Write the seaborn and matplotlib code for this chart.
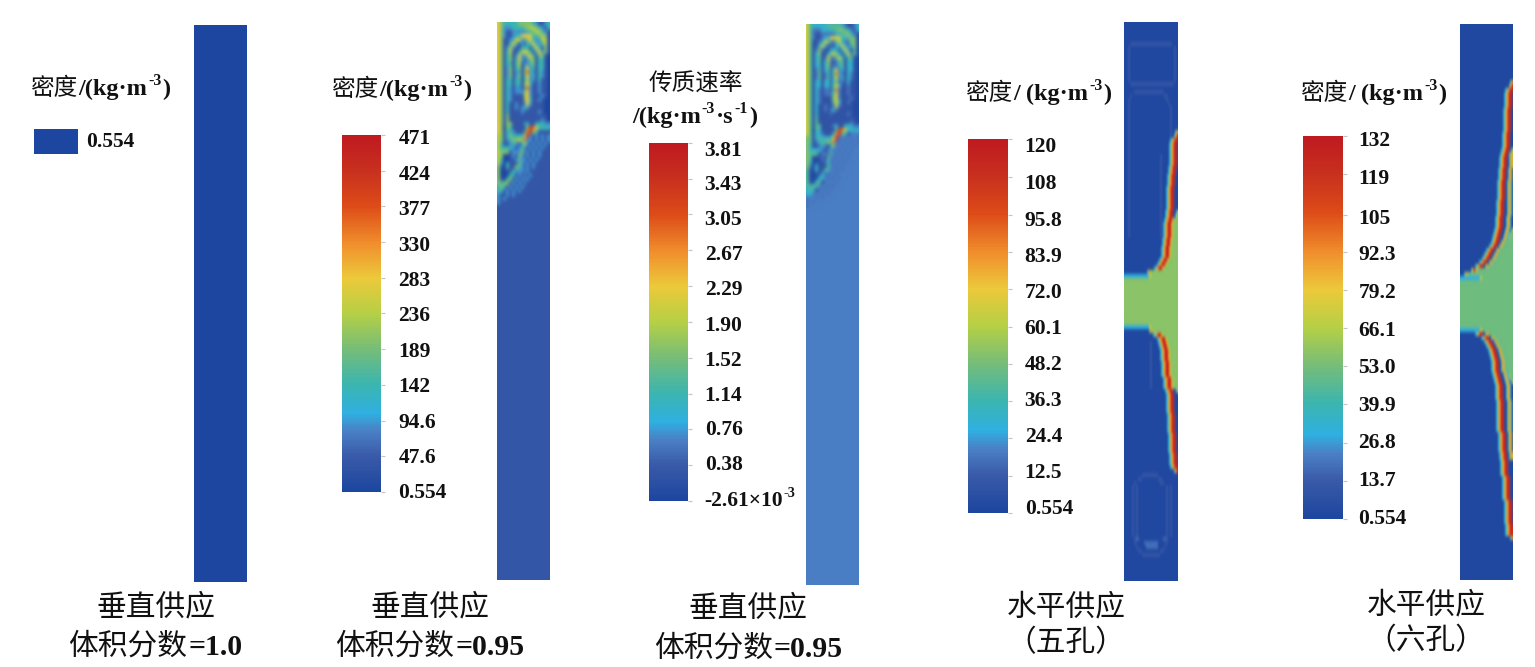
import numpy as np
import seaborn as sns
import matplotlib
matplotlib.use("Agg")
import matplotlib.pyplot as plt
from matplotlib.colors import LinearSegmentedColormap
from matplotlib.transforms import Affine2D

W, H = 1535, 667

# ---- data -------------------------------------------------------------
DENSITY_TICKS_2 = [471, 424, 377, 330, 283, 236, 189, 142, 94.6, 47.6, 0.554]
RATE_TICKS_3 = [3.81, 3.43, 3.05, 2.67, 2.29, 1.90, 1.52, 1.14, 0.76, 0.38, -2.61e-3]
DENSITY_TICKS_4 = [120, 108, 95.8, 83.9, 72.0, 60.1, 48.2, 36.3, 24.4, 12.5, 0.554]
DENSITY_TICKS_5 = [132, 119, 105, 92.3, 79.2, 66.1, 53.0, 39.9, 26.8, 13.7, 0.554]
LABELS_2 = ["471", "424", "377", "330", "283", "236", "189", "142", "94.6", "47.6", "0.554"]
LABELS_3 = ["3.81", "3.43", "3.05", "2.67", "2.29", "1.90", "1.52", "1.14", "0.76", "0.38", "-2.61×10"]
LABELS_4 = ["120", "108", "95.8", "83.9", "72.0", "60.1", "48.2", "36.3", "24.4", "12.5", "0.554"]
LABELS_5 = ["132", "119", "105", "92.3", "79.2", "66.1", "53.0", "39.9", "26.8", "13.7", "0.554"]

# cell codes -> position on the colour scale
LEVELS_2 = {"0": .0, "a": .08, "1": .08, "b": .08, "2": .19, "3": .3, "4": .42, "5": .5, "6": .6, "7": .74, "8": .88, "9": 1.}
LEVELS_3 = {"0": .02, "a": .08, "1": .07, "b": .165, "2": .15, "3": .26, "4": .34, "5": .42, "6": .55, "7": .72, "8": .88, "9": 1.}
LEVELS_4 = {"0": .015, "a": .085, "1": .08, "2": .14, "3": .22, "4": .32, "5": .43, "6": .54, "7": .72, "8": .86, "9": 1.}
LEVELS_5 = {"0": .015, "a": .07, "1": .08, "2": .13, "3": .22, "4": .32, "5": .39, "6": .54, "7": .72, "8": .86, "9": 1.}

SWIRL_TOP = [
    "643333344444321123", "642223333445543213", "642112222233455321", "642112336666334541",
    "641123652246322551", "641136312133632351", "641252113331363141", "641351135653136241",
    "641341262246314410", "641341352124413310", "641331351223413310", "641241341362313310",
    "641241231473213210", "641241241362313210", "641331331352213110", "641331331463112110",
    "641321221372112110", "641321222462112110", "641321111562111210", "641321111463112100",
    "641311211262111100", "641311212321111100", "641311112111112100", "641411111111111110",
    "641411111111111210", "641441111231133322", "640431111148763333", "641332111378431bbb",
    "541343333682b2b2b2", "541234454722b2b2b2", "531123213" + "52b2b2b2b", "5333321232b2b2b2bb",
    "544412224b2b2b2bbb", "540012142b2b2b2bbb", "5300112322b2b2bbbb", "520311142b2b2bbbbb",
    "410311432b2b2bbbbb", "400113222b2bbbbbbb", "400033b2b2b2bbbbbb", "4103412b2b2bbbbbbb",
    "4344b2b2b2bbbbbbbb", "34312b2b2bbbbbbbbb", "33b2b2b2bbbbbbbbbb", "2bb2b2bbbbbbbbbbbb",
    "2b2bbbbbbbbbbbbbbb", "2bbbbbbbbbbbbbbbbb",
]
SWIRL_CALM = ["b" * 18] * 94

# faint recirculation traces, 2 px wide cells
FAINT_5HOLE = (
    [""] * 5
    + ["000aaaaaaaaaaaaaaaaaaaaa000"]
    + ["00a0000000000000000000000a0"] * 9
    + ["000aaaaaaaaaaaaaaaaaaaaaa00", "", "00000aaaaaaaaaaaaaaa0000000", "000a0000000000000000aa00000",
       "00a000000000000000000a00000", "00a0000000000000000000a0000"]
    + ["00a00000000000000000000a000"] * 12
    + ["00a000000000000000a00000000"] * 21
    + [""] * 26
    + ["0000000000000a0000000000000"] * 12
    + [""] * 21
    + ["000000000aaaaaaaa0000000000", "0000000aa00000000aa00000000", "00000a000000000000aa0000000"]
    + ["0000a0a00000000000000a0a000"] * 13
    + ["00000a2a00000000000a2a00000", "00000a000022222220000a00000", "000000a0000222222000a000000",
       "0000000aa000000000aa0000000", "000000000aaaaaaaaa000000000"]
    + [""] * 6
)

# wall jets, 1 px wide cells counted from the right wall
BANDS_5HOLE = (
    [""] * 27
    + ["367", "3679", "36798"]
    + ["367980"] * 6
    + ["3679800"] * 2
    + ["36798000"] * 3
    + ["367980000"] * 6
    + ["3679800036", "3679800365", "36798765555"]
    + ["367987655555"] * 4
    + ["3679876555555"] * 2
    + ["36798765555555"] * 3
    + ["3679876555555555", "367987655555555555", "3679876" + "5" * 14, "3676" + "5" * 27,
       "3" * 25 + "66" + "5" * 27]
    + ["5" * 54] * 12
    + ["3" * 25 + "66" + "5" * 27, "3676" + "5" * 25, "3679876" + "5" * 15, "3679876" + "5" * 11,
       "3679876" + "5" * 10, "3679876" + "5" * 9]
    + ["3679876" + "5" * 8] * 3
    + ["3679876" + "5" * 7] * 4
    + ["3679876" + "5" * 5] * 3
    + ["3679800036"]
    + ["367980000"] * 5
    + ["36798000"] * 5
    + ["3679800"] * 5
    + ["367980"] * 3
    + ["36798", "3679"]
    + [""] * 27
)

BANDS_6HOLE = (
    [""] * 14
    + ["367", "3679", "36798"]
    + ["367980"] * 4
    + ["3679800"] * 6
    + ["36798000"] * 4
    + ["367980036", "3679803676"]
    + ["36798003676"] * 3
    + ["367980036760"] * 3
    + ["3679800367630"] * 5
    + ["36798000367630"] * 4
    + ["367980003676300"] * 3
    + ["3679800036763036", "36798000367633655", "367980003676336555"]
    + ["367980036764" + "5" * n for n in [7, 9, 12, 14, 16, 19, 23]]
    + ["367976" + "5" * 36, "3676" + "5" * 45, "3" * 20 + "66" + "5" * 31]
    + ["5" * 53] * 12
    + ["3" * 20 + "66" + "5" * 31]
    + ["367980036764" + "5" * n for n in [23, 17, 14, 12, 10, 9, 8]]
    + ["367980036764" + "5" * 7] * 3
    + ["367980003676336555", "36798000367633655", "3679800036763036"]
    + ["367980003676300"] * 4
    + ["36798000367630"] * 8
    + ["367980036760"] * 5
    + ["36798003676"] * 2
    + ["3679800000"] * 4
    + ["36798000"] * 6
    + ["367980"] * 6
    + ["36798"] * 3
    + ["367"]
    + [""] * 10
)

VERTICAL_PURE = [[0.554]]

# ---- style ------------------------------------------------------------
sns.set_style("white")
plt.rcParams["font.family"] = ["Liberation Serif", "Noto Sans CJK SC"]
CJK = "Noto Sans CJK SC"
SERIF = "Liberation Serif"

cmap = LinearSegmentedColormap.from_list("fluent", [
    (0.0, "#1c469f"), (0.1, "#3a5aa8"), (0.17, "#4a80c6"), (0.22, "#2fb0e0"),
    (0.3, "#3bb5b0"), (0.4, "#76bd78"), (0.5, "#b5d045"), (0.6, "#ecc93a"),
    (0.7, "#f08c2c"), (0.8, "#dd4c18"), (0.9, "#c8301e"), (1.0, "#bf1a20")], N=256)

fig = plt.figure(figsize=(W / 100, H / 100), dpi=100, facecolor="white")


def pixel_axes(x0, x1, y0, y1):
    return fig.add_axes([x0 / W, 1 - y1 / H, (x1 - x0) / W, (y1 - y0) / H])


def make_soften(v_passes, h_passes):
    def soften(img, dpi):
        out = img
        for axis, n in ((0, v_passes), (1, h_passes)):
            size = out.shape[axis]
            for _ in range(n):
                a = np.take(out, [0] + list(range(size - 1)), axis=axis)
                b = np.take(out, list(range(1, size)) + [size - 1], axis=axis)
                out = 0.25 * a + 0.5 * out + 0.25 * b
        return out, 0, 0
    return soften


def to_field(rows, levels, vmin, vmax, ncol):
    grid = [[levels[c] for c in r.rjust(ncol, "0")[-ncol:]] for r in rows]
    return vmin + np.array(grid) * (vmax - vmin)


def merge(faint, bands, ncol):
    rows = []
    for f, b in zip(faint, bands):
        b = b.replace("36798", "33677998")
        wide = "".join(c * 2 for c in f.ljust(27, "0")).ljust(ncol, "0")[:ncol]
        rows.append(wide[:ncol - len(b)] + b)
    return rows


def panel(box, rows, levels, ticks, labels, bar, ncol, tick_pad, blur, inset):
    vmin, vmax = ticks[-1], ticks[0]
    ax = pixel_axes(*box)
    cax = pixel_axes(*bar)
    sns.heatmap(to_field(rows, levels, vmin, vmax, ncol), ax=ax, cbar_ax=cax, cmap=cmap,
                vmin=vmin, vmax=vmax, xticklabels=False, yticklabels=False,
                cbar_kws={"ticks": ticks})
    ax.collections[0].set_agg_filter(make_soften(*blur))
    cbar = ax.collections[0].colorbar
    cbar.set_ticks(ticks, labels=labels)
    cbar.outline.set_visible(False)
    cax.tick_params(axis="y", length=3, width=0.8, color="#c4c4c4", pad=tick_pad, labelsize=15.5)
    n = len(ticks) - 1
    for i, t in enumerate(cax.get_yticklabels()):
        t.set_fontfamily(SERIF)
        t.set_fontweight("bold")
        t.set_color("#111111")
        shift = inset[0] + (inset[1] - inset[0]) * i / n
        t.set_transform(t.get_transform() + Affine2D().translate(0, -shift))
    return ax


# panel 1 (uniform field and single swatch)
ax1 = pixel_axes(194, 247, 25, 582)
sns.heatmap(VERTICAL_PURE, ax=ax1, cmap=cmap, vmin=0.554, vmax=30, cbar=False, xticklabels=False, yticklabels=False)
sw = pixel_axes(34, 78, 129, 154)
sns.heatmap(VERTICAL_PURE, ax=sw, cmap=cmap, vmin=0.554, vmax=30, cbar=False, xticklabels=False, yticklabels=False)

panel((497, 550, 22, 580), SWIRL_TOP + SWIRL_CALM, LEVELS_2, DENSITY_TICKS_2, LABELS_2,
      (342, 381, 135, 492), 18, 9.5, (7, 6), (2, -1))
panel((806, 859, 24, 585), SWIRL_TOP + SWIRL_CALM, LEVELS_3, RATE_TICKS_3, LABELS_3,
      (649, 688, 143, 501), 18, 9, (7, 6), (5, -3))
panel((1124, 1178, 22, 581), merge(FAINT_5HOLE, BANDS_5HOLE, 54), LEVELS_4, DENSITY_TICKS_4, LABELS_4,
      (968, 1008, 139, 513), 54, 9, (6, 2), (6, -6))
panel((1460, 1513, 24, 580), merge([""] * len(BANDS_6HOLE), BANDS_6HOLE, 53), LEVELS_5, DENSITY_TICKS_5, LABELS_5,
      (1303, 1343, 136, 519), 53, 8, (6, 2), (3, -3))

renderer = fig.canvas.get_renderer()


def chain(x, y, parts, size, latin=None):
    """Lay text pieces side by side from pixel x, with baseline at pixel y."""
    latin = latin or size
    for s, kind in parts:
        if kind == "cjk":
            t = fig.text(x / W, 1 - y / H, s, family=CJK, fontsize=size, color="#111111", va="baseline")
        elif kind == "sup":
            t = fig.text(x / W, 1 - (y - 10) / H, s, family=SERIF, weight="bold",
                         fontsize=latin * 0.66, color="#111111", va="baseline")
        else:
            t = fig.text(x / W, 1 - y / H, s, family=SERIF, weight="bold", fontsize=latin,
                         color="#111111", va="baseline")
        x += t.get_window_extent(renderer).width + 1


density = [("密度", "cjk"), ("/(kg·m", "b"), ("-3", "sup"), (")", "b")]
density_sp = [("密度", "cjk"), ("/ (kg·m", "b"), ("-3", "sup"), (")", "b")]
chain(30, 95, density, 17, 17.5)
chain(331, 96, density, 17, 17.5)
chain(649, 91, [("传质速率", "cjk")], 17, 17.5)
chain(632, 123, [("/(kg·m", "b"), ("-3", "sup"), ("·s", "b"), ("-1", "sup"), (")", "b")], 17, 17.5)
chain(965, 100, density_sp, 17, 17.5)
chain(1300, 100, density_sp, 17, 17.5)

chain(86, 147, [("0.554", "b")], 15.5)
chain(784, 507, [("-3", "sup")], 15.5)

chain(96, 615, [("垂直供应", "cjk")], 21.4)
chain(68, 655, [("体积分数", "cjk"), ("=1.0", "b")], 21.4)
chain(370, 615, [("垂直供应", "cjk")], 21.4)
chain(335, 655, [("体积分数", "cjk"), ("=0.95", "b")], 21.4)
chain(688, 616, [("垂直供应", "cjk")], 21.4)
chain(654, 657, [("体积分数", "cjk"), ("=0.95", "b")], 21.4)
chain(1007, 615, [("水平供应", "cjk")], 21.4)
chain(1006, 651, [("（五孔）", "cjk")], 21.4)
chain(1367, 613, [("水平供应", "cjk")], 21.4)
chain(1366, 649, [("（六孔）", "cjk")], 21.4)

fig.savefig("out.png", dpi=100, facecolor="white")
